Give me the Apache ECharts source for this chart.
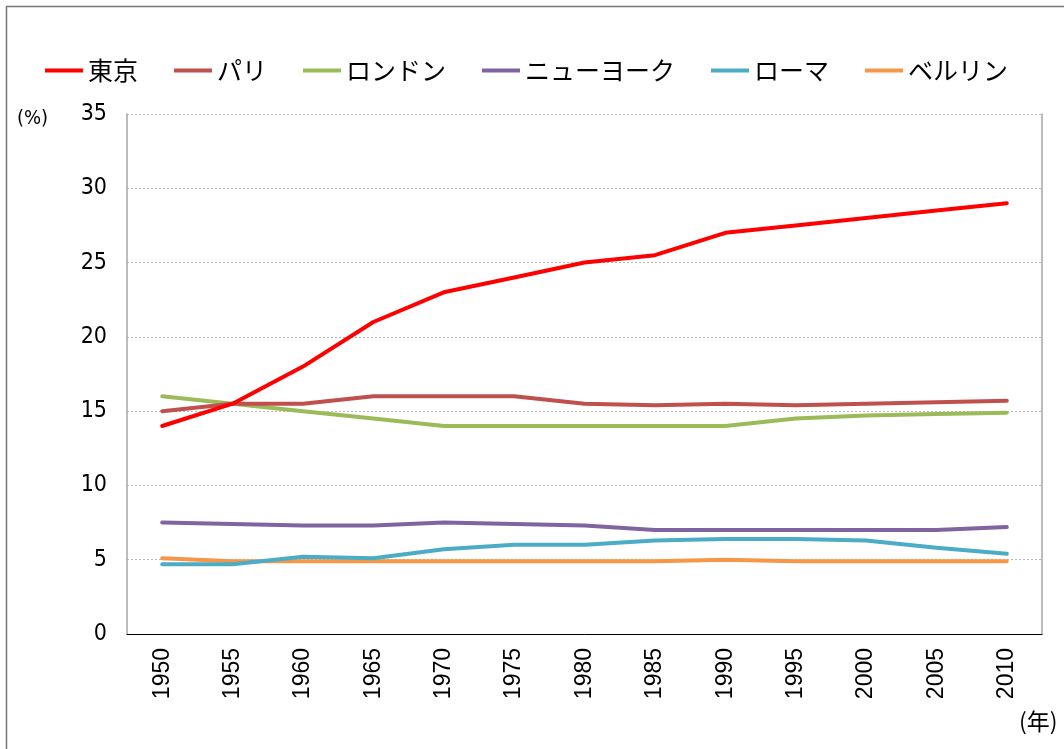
<!DOCTYPE html>
<html>
<head>
<meta charset="utf-8">
<script src="https://cdn.jsdelivr.net/npm/echarts@6/dist/echarts.min.js"></script>
<style>
  html, body { margin: 0; padding: 0; background: #fff; }
  #chart { width: 1064px; height: 749px; }
</style>
</head>
<body>
<div id="chart"></div>
<script>
const years = ['1950', '1955', '1960', '1965', '1970', '1975', '1980', '1985', '1990', '1995', '2000', '2005', '2010'];
const cityNames = ['東京', 'パリ', 'ロンドン', 'ニューヨーク', 'ローマ', 'ベルリン'];
const cityColors = ['#ff0000', '#c0504d', '#9bbb59', '#8064a2', '#4bacc6', '#f79646'];

const tokyo = [14, 15.5, 18, 21, 23, 24, 25, 25.5, 27, 27.5, 28, 28.5, 29];
const paris = [15, 15.5, 15.5, 16, 16, 16, 15.5, 15.4, 15.5, 15.4, 15.5, 15.6, 15.7];
const london = [16, 15.5, 15, 14.5, 14, 14, 14, 14, 14, 14.5, 14.7, 14.8, 14.9];
const newYork = [7.5, 7.4, 7.3, 7.3, 7.5, 7.4, 7.3, 7.0, 7.0, 7.0, 7.0, 7.0, 7.2];
const rome = [4.7, 4.7, 5.2, 5.1, 5.7, 6.0, 6.0, 6.3, 6.4, 6.4, 6.3, 5.8, 5.4];
const berlin = [5.1, 4.9, 4.9, 4.9, 4.9, 4.9, 4.9, 4.9, 5.0, 4.9, 4.9, 4.9, 4.9];
const cityValues = [tokyo, paris, london, newYork, rome, berlin];

const numFont = '"DejaVu Sans Condensed", sans-serif';
const jpFont = '"Noto Sans CJK JP", sans-serif';

const chart = echarts.init(document.getElementById('chart'), null, { renderer: 'canvas' });

const option = {
  backgroundColor: '#fff',
  animation: false,
  graphic: [
    { type: 'rect', shape: { x: 6.5, y: 6.5, width: 1200, height: 900 }, style: { fill: 'none', stroke: '#777', lineWidth: 1.5 }, silent: true },
    { type: 'text', left: 17, top: 109, style: { text: '(%)', font: '20px ' + numFont, fill: '#000' } },
    { type: 'text', left: 1019, top: 710, style: { text: '(年)', font: '23px ' + jpFont, fill: '#000' } }
  ],
  legend: {
    left: 40,
    top: 53,
    icon: 'rect',
    itemWidth: 38,
    itemHeight: 4,
    itemGap: 36,
    textStyle: { fontFamily: jpFont, fontSize: 25, color: '#000' },
    data: cityNames
  },
  grid: { left: 127, right: 22, top: 114, bottom: 115 },
  xAxis: {
    type: 'category',
    data: years,
    boundaryGap: true,
    axisLine: { lineStyle: { color: '#000', width: 1 } },
    axisTick: { show: false },
    axisLabel: { rotate: 90, margin: 14, fontFamily: 'Arial, "Liberation Sans", sans-serif', fontSize: 23, color: '#000' }
  },
  yAxis: [
    {
      type: 'value',
      min: 0,
      max: 35,
      interval: 5,
      axisLine: { show: true, lineStyle: { color: '#a6a6a6', width: 1.5 } },
      axisTick: { show: false },
      axisLabel: { margin: 20, fontFamily: numFont, fontSize: 23, color: '#000' },
      splitLine: { show: true, lineStyle: { color: '#b8b8b8', type: [2, 2], width: 1 } }
    },
    {
      type: 'value',
      position: 'right',
      min: 0,
      max: 35,
      interval: 5,
      axisLine: { show: true, lineStyle: { color: '#a6a6a6', width: 1.5 } },
      axisTick: { show: false },
      axisLabel: { show: false },
      splitLine: { show: false }
    }
  ],
  series: cityNames.map((name, i) => ({
    name: name,
    type: 'line',
    data: cityValues[i],
    yAxisIndex: 0,
    showSymbol: false,
    symbol: 'none',
    lineStyle: { color: cityColors[i], width: 4, cap: 'round', join: 'round' },
    itemStyle: { color: cityColors[i] },
    z: 10 - i
  }))
};

chart.setOption(option);
</script>
</body>
</html>
